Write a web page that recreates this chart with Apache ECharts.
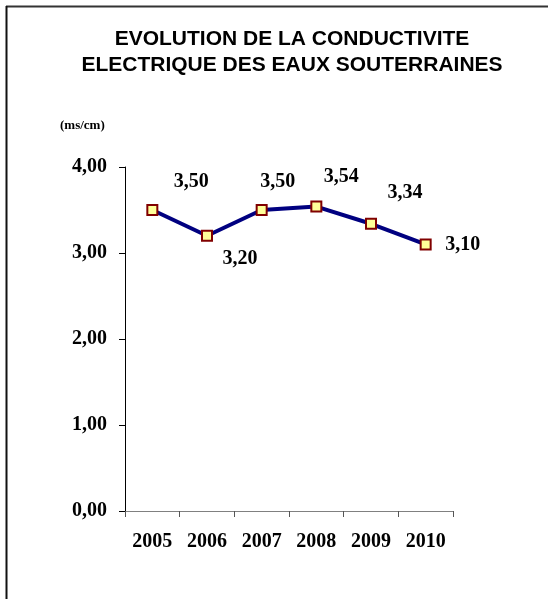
<!DOCTYPE html>
<html>
<head>
<meta charset="utf-8">
<script src="https://cdn.jsdelivr.net/npm/echarts@6/dist/echarts.min.js"></script>
<style>html,body{margin:0;padding:0;background:#fff}#c{width:548px;height:599px}</style>
</head>
<body>
<div id="c"></div>
<script>
var titleLines = ['EVOLUTION DE LA CONDUCTIVITE', 'ELECTRIQUE DES EAUX SOUTERRAINES'];
var unitLabel = '(ms/cm)';
var years = ['2005', '2006', '2007', '2008', '2009', '2010'];
var conductivity = [3.50, 3.20, 3.50, 3.54, 3.34, 3.10];
var yTicks = [0, 1, 2, 3, 4];
var labelOffsets = [[39, -28], [33, 23], [16, -28], [25, -30], [34, -31], [37, 0]];

function fmt(v) { return v.toFixed(2).replace('.', ','); }

var chart = echarts.init(document.getElementById('c'), null, {renderer: 'canvas'});
var seriesData = conductivity.map(function (v, i) {
  return { value: v, label: { offset: labelOffsets[i] } };
});

chart.setOption({
  animation: false,
  backgroundColor: '#fff',
  title: {
    text: titleLines.join('\n'),
    left: 287, textAlign: 'center', top: 21,
    textStyle: { fontFamily: 'Liberation Sans', fontWeight: 'bold', fontSize: 21, lineHeight: 26, color: '#000' }
  },
  graphic: [
    { type: 'line', shape: { x1: 6, y1: 6.5, x2: 548, y2: 6.5 }, style: { stroke: '#333', lineWidth: 2 } },
    { type: 'line', shape: { x1: 6.5, y1: 6, x2: 6.5, y2: 599 }, style: { stroke: '#111', lineWidth: 2 } },
    { type: 'text', left: 60, top: 119, style: { text: unitLabel, font: 'bold 13px "Liberation Serif"', fill: '#000' } }
  ],
  grid: { left: 125, top: 167, width: 328, height: 344 },
  xAxis: {
    type: 'category', data: years, boundaryGap: true,
    axisLine: { lineStyle: { color: '#808080', width: 1 } },
    axisTick: { show: true, length: 6, alignWithLabel: false, lineStyle: { color: '#555' } },
    axisLabel: { margin: 21, fontFamily: 'Liberation Serif', fontWeight: 'bold', fontSize: 20, color: '#000', interval: 0 },
    splitLine: { show: false }
  },
  yAxis: {
    type: 'value', min: 0, max: 4, interval: 1,
    axisLine: { show: true, lineStyle: { color: '#000', width: 1 } },
    axisTick: { show: true, length: 6, inside: false, lineStyle: { color: '#000' } },
    axisLabel: { margin: 18, fontFamily: 'Liberation Serif', fontWeight: 'bold', fontSize: 20, color: '#000',
      formatter: function (v) { return yTicks.indexOf(v) >= 0 ? fmt(v) : ''; } },
    splitLine: { show: false }
  },
  series: [{
    type: 'line', data: seriesData,
    lineStyle: { color: '#000080', width: 4 },
    symbol: 'rect', symbolSize: 10,
    itemStyle: { color: '#FFFF99', borderColor: '#800000', borderWidth: 2 },
    label: { show: true, position: 'inside', formatter: function (p) { return fmt(p.value); },
      fontFamily: 'Liberation Serif', fontWeight: 'bold', fontSize: 20, color: '#000' },
    z: 3
  }]
});
</script>
</body>
</html>
